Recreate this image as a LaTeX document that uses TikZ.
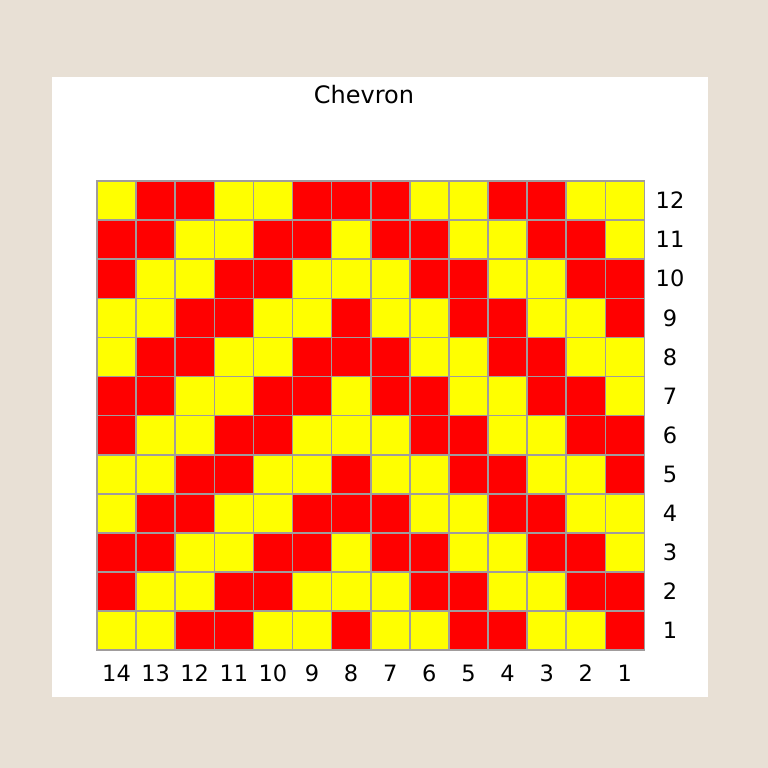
\documentclass[tikz,border=0pt]{standalone}
\usepackage{fontspec}
\setmainfont{DejaVu Sans}
\definecolor{bgbeige}{HTML}{E8E0D5}
\definecolor{cR}{HTML}{FF0000}
\definecolor{cY}{HTML}{FFFF00}
\definecolor{gridgray}{HTML}{A09C9C}
\tikzset{
  cellbox/.style={draw=gridgray, line width=1.6pt},
  lbl/.style={font=\fontsize{22.5}{26}\selectfont, text=black, inner sep=0pt},
  ttl/.style={font=\fontsize{24}{28}\selectfont, text=black, inner sep=0pt}
}
\newcommand\cellrow[2]{%
  \foreach \v [count=\c from 0] in {#2} {%
    \path[cellbox, fill=c\v] (97+\c*39.1, 181+12*39.1-#1*39.1) rectangle ++(39.1,39.1);
  }%
}
\begin{document}
\begin{tikzpicture}[x=1pt,y=-1pt]
\useasboundingbox (0,0) rectangle (768,768);
\fill[bgbeige] (0,0) rectangle (768,768);
\fill[white] (52,77) rectangle (708,697);
\node[ttl] (title) at (364,95) {Chevron};
\cellrow{12}{Y,R,R,Y,Y,R,R,R,Y,Y,R,R,Y,Y}
\cellrow{11}{R,R,Y,Y,R,R,Y,R,R,Y,Y,R,R,Y}
\cellrow{10}{R,Y,Y,R,R,Y,Y,Y,R,R,Y,Y,R,R}
\cellrow{9}{Y,Y,R,R,Y,Y,R,Y,Y,R,R,Y,Y,R}
\cellrow{8}{Y,R,R,Y,Y,R,R,R,Y,Y,R,R,Y,Y}
\cellrow{7}{R,R,Y,Y,R,R,Y,R,R,Y,Y,R,R,Y}
\cellrow{6}{R,Y,Y,R,R,Y,Y,Y,R,R,Y,Y,R,R}
\cellrow{5}{Y,Y,R,R,Y,Y,R,Y,Y,R,R,Y,Y,R}
\cellrow{4}{Y,R,R,Y,Y,R,R,R,Y,Y,R,R,Y,Y}
\cellrow{3}{R,R,Y,Y,R,R,Y,R,R,Y,Y,R,R,Y}
\cellrow{2}{R,Y,Y,R,R,Y,Y,Y,R,R,Y,Y,R,R}
\cellrow{1}{Y,Y,R,R,Y,Y,R,Y,Y,R,R,Y,Y,R}
\foreach \n [count=\i from 0] in {14,13,...,1}
  \node[lbl] (col\n) at (97+19.55+\i*39.1, 673) {\n};
\foreach \r in {1,...,12}
  \node[lbl] (row\r) at (670, 181+12*39.1-\r*39.1+19.55) {\r};
\end{tikzpicture}
\end{document}
